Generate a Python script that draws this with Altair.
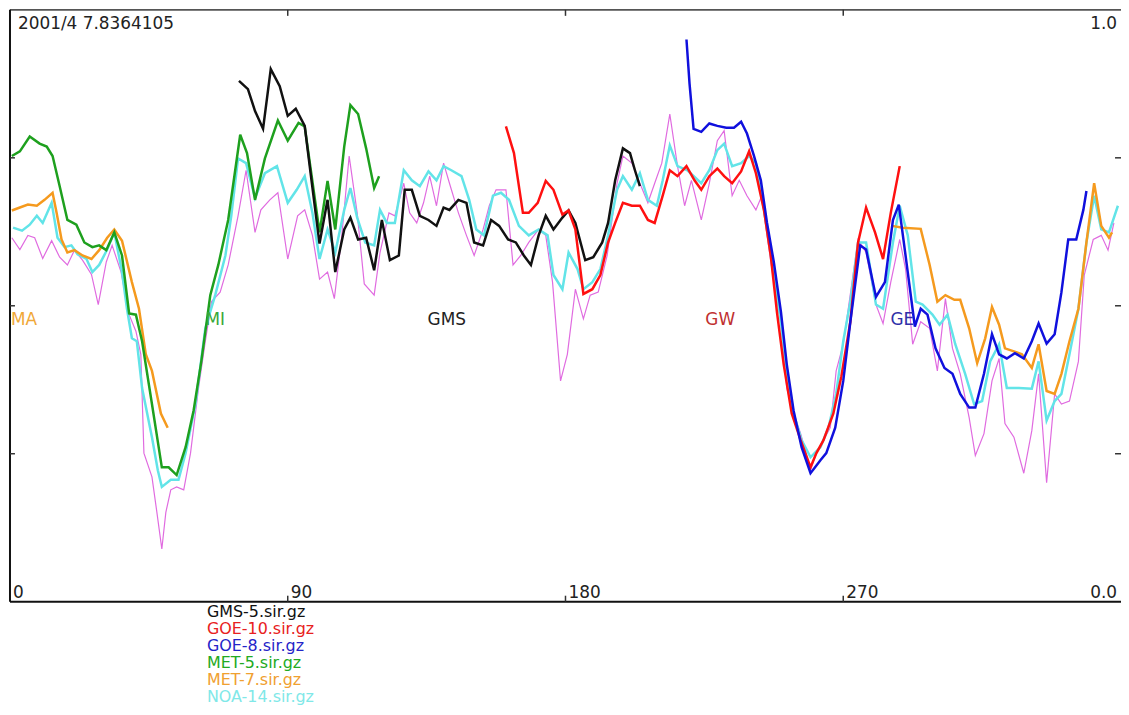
import altair as alt
import pandas as pd

W, H = 1117, 595
FONT = "DejaVu Sans"
FS = 17
LEG_FS = 16

TITLE = "2001/4 7.8364105"

x_tick_vals = [0, 90, 180, 270]
x_tick_labels = ["0", "90", "180", "270"]
y_tick_vals = [0.25, 0.5, 0.75]

sat_names = ["MA", "MI", "GMS", "GW", "GE"]
sat_lons = [0, 63, 135, 225, 285]
sat_colors = ["#f0a838", "#38a838", "#222222", "#c03030", "#3030a8"]

legend_names = ["GMS-5.sir.gz", "GOE-10.sir.gz", "GOE-8.sir.gz",
                "MET-5.sir.gz", "MET-7.sir.gz", "NOA-14.sir.gz"]
legend_colors = ["#111111", "#e82020", "#2424c8", "#22aa22", "#f0a030", "#80e8e8"]

# ---- composite (thin magenta) ----
mag_lon = [0.6, 3.2, 5.8, 8.0, 10.6, 13.5, 16.1, 18.6, 20.9, 23.5,
           26.4, 28.6, 31.2, 33.1, 36.0, 38.6, 40.8, 42.4, 43.4, 46.0,
           47.6, 49.2, 50.5, 52.1, 54.0, 56.3, 58.5, 61.1, 63.3, 65.3,
           68.1, 70.7, 73.9, 76.5, 79.4, 81.3, 84.2, 86.8, 90.0, 93.2,
           95.5, 98.0, 100.3, 102.9, 105.1, 107.4, 109.9, 112.5, 114.8, 118.0,
           119.9, 122.8, 124.7, 127.6, 129.5, 131.8, 134.0, 136.0, 138.2, 140.5,
           142.4, 145.3, 147.9, 150.4, 153.3, 155.3, 157.5, 160.7, 163.0, 165.5,
           168.1, 171.3, 173.6, 175.8, 178.4, 180.6, 183.2, 185.8, 188.0, 190.6,
           193.5, 196.7, 198.6, 201.5, 204.1, 206.7, 208.9, 211.2, 213.8, 216.3,
           218.6, 220.8, 224.0, 226.6, 229.2, 231.4, 234.0, 236.3, 238.8, 241.7,
           243.6, 245.3, 247.5, 249.8, 251.7, 253.9, 256.2, 259.4, 261.3, 263.6,
           265.8, 267.7, 270.0, 274.8, 277.4, 280.6, 282.9, 285.4, 288.3, 290.2,
           292.5, 295.1, 298.0, 300.5, 303.1, 305.4, 307.9, 310.8, 312.8, 315.6,
           318.2, 320.5, 322.4, 325.3, 328.5, 331.1, 333.3, 335.9, 338.5, 340.7,
           343.3, 346.2, 348.1, 351.0, 353.6, 355.8, 357.7]
mag_val = [0.615, 0.595, 0.619, 0.615, 0.580, 0.610, 0.582, 0.569, 0.594, 0.577,
           0.553, 0.502, 0.574, 0.602, 0.557, 0.485, 0.457, 0.418, 0.251, 0.211,
           0.151, 0.089, 0.151, 0.189, 0.194, 0.189, 0.251, 0.361, 0.440, 0.507,
           0.523, 0.569, 0.652, 0.729, 0.624, 0.662, 0.679, 0.691, 0.579, 0.652,
           0.662, 0.619, 0.545, 0.557, 0.512, 0.612, 0.753, 0.657, 0.537, 0.518,
           0.590, 0.657, 0.652, 0.707, 0.657, 0.640, 0.674, 0.719, 0.669, 0.741,
           0.707, 0.657, 0.619, 0.585, 0.629, 0.669, 0.696, 0.696, 0.569, 0.585,
           0.607, 0.629, 0.619, 0.540, 0.373, 0.418, 0.528, 0.478, 0.518, 0.523,
           0.585, 0.707, 0.753, 0.741, 0.707, 0.674, 0.707, 0.741, 0.824, 0.736,
           0.669, 0.712, 0.645, 0.707, 0.779, 0.796, 0.686, 0.712, 0.686, 0.662,
           0.686, 0.619, 0.540, 0.473, 0.361, 0.318, 0.284, 0.222, 0.251, 0.273,
           0.294, 0.390, 0.435, 0.612, 0.590, 0.502, 0.470, 0.540, 0.612, 0.562,
           0.435, 0.473, 0.462, 0.390, 0.512, 0.428, 0.385, 0.311, 0.247, 0.284,
           0.373, 0.411, 0.301, 0.278, 0.217, 0.289, 0.385, 0.201, 0.351, 0.334,
           0.339, 0.406, 0.552, 0.612, 0.619, 0.594, 0.640]

# ---- NOA-14 (cyan) ----
noa14_lon = [1.0, 3.9, 6.4, 8.7, 10.6, 13.5, 15.4, 17.7, 19.9, 21.9,
             24.8, 26.7, 28.9, 31.5, 33.8, 36.3, 37.9, 39.5, 41.1, 42.8,
             46.0, 47.9, 49.2, 52.1, 54.6, 56.9, 60.1, 63.3, 66.5, 69.8,
             71.7, 73.9, 76.5, 79.4, 82.6, 86.5, 90.0, 92.9, 95.5, 98.0,
             100.3, 102.9, 105.4, 108.3, 110.3, 112.5, 115.1, 118.0, 119.9, 122.1,
             124.7, 127.6, 130.2, 132.8, 135.6, 138.2, 140.5, 143.0, 146.3, 148.8,
             151.1, 153.6, 156.5, 159.1, 161.7, 164.9, 168.1, 171.3, 174.2, 176.1,
             179.0, 181.0, 183.9, 185.8, 188.7, 191.3, 193.8, 196.7, 198.6, 201.5,
             204.1, 206.7, 209.6, 211.5, 213.8, 216.3, 219.5, 224.0, 226.6, 229.2,
             231.4, 234.0, 236.9, 239.5, 241.7, 244.3, 246.9, 249.8, 251.7, 253.9,
             256.5, 259.4, 262.6, 265.2, 267.7, 270.0, 272.3, 274.8, 277.4, 280.6,
             282.9, 286.1, 288.3, 290.9, 293.5, 295.7, 298.9, 301.2, 303.8, 306.3,
             309.5, 312.4, 315.0, 317.6, 320.5, 323.0, 326.9, 331.1, 333.3, 335.9,
             338.5, 340.7, 343.3, 346.2, 348.8, 351.3, 353.6, 356.1, 359.0]
noa14_val = [0.632, 0.627, 0.637, 0.652, 0.640, 0.674, 0.615, 0.599, 0.602, 0.587,
             0.579, 0.557, 0.569, 0.595, 0.624, 0.557, 0.495, 0.445, 0.440, 0.361,
             0.278, 0.222, 0.194, 0.206, 0.206, 0.251, 0.334, 0.462, 0.518, 0.585,
             0.652, 0.749, 0.741, 0.682, 0.724, 0.736, 0.674, 0.696, 0.719, 0.657,
             0.579, 0.629, 0.590, 0.662, 0.699, 0.649, 0.607, 0.602, 0.662, 0.640,
             0.640, 0.729, 0.712, 0.702, 0.727, 0.712, 0.736, 0.729, 0.719, 0.679,
             0.629, 0.619, 0.686, 0.691, 0.679, 0.635, 0.619, 0.629, 0.619, 0.552,
             0.528, 0.590, 0.562, 0.528, 0.540, 0.562, 0.619, 0.696, 0.719, 0.696,
             0.724, 0.679, 0.669, 0.712, 0.771, 0.736, 0.729, 0.707, 0.729, 0.763,
             0.774, 0.736, 0.741, 0.753, 0.741, 0.662, 0.574, 0.473, 0.390, 0.318,
             0.273, 0.244, 0.261, 0.294, 0.351, 0.440, 0.507, 0.607, 0.607, 0.502,
             0.495, 0.607, 0.669, 0.619, 0.507, 0.502, 0.485, 0.468, 0.485, 0.435,
             0.385, 0.334, 0.339, 0.406, 0.435, 0.361, 0.361, 0.360, 0.406, 0.306,
             0.339, 0.351, 0.418, 0.495, 0.607, 0.686, 0.629, 0.624, 0.669]

# ---- MET-7 (orange), two pieces ----
met7a_lon = [0.6, 3.2, 5.8, 8.7, 11.2, 13.8, 15.1, 16.7, 18.6, 20.9, 23.5,
             26.4, 28.9, 31.5, 33.8, 36.3, 39.5, 41.8, 44.0, 46.0, 48.9, 51.1]
met7a_val = [0.661, 0.666, 0.671, 0.669, 0.679, 0.691, 0.657, 0.612, 0.590, 0.594, 0.585,
             0.579, 0.594, 0.615, 0.629, 0.610, 0.540, 0.495, 0.418, 0.390, 0.318, 0.294]
met7b_lon = [285.8, 289.3, 295.1, 298.0, 300.5, 303.1, 306.0, 307.9, 310.8, 313.4,
             316.0, 318.2, 320.5, 322.4, 325.3, 327.9, 331.1, 333.3, 335.9, 338.5,
             340.7, 343.3, 346.2, 348.8, 351.3, 353.6, 356.1, 357.1]
met7b_val = [0.635, 0.632, 0.630, 0.569, 0.507, 0.518, 0.510, 0.510, 0.462, 0.403,
             0.445, 0.498, 0.468, 0.428, 0.423, 0.418, 0.395, 0.435, 0.356, 0.351,
             0.385, 0.440, 0.495, 0.607, 0.707, 0.635, 0.615, 0.624]

# ---- MET-5 (green) ----
met5_lon = [0.6, 3.2, 6.4, 9.6, 11.9, 13.8, 16.1, 18.6, 21.5, 24.1,
            26.7, 28.9, 31.2, 33.8, 36.3, 38.6, 40.8, 42.8, 46.0, 49.2,
            51.4, 54.0, 56.9, 59.5, 62.0, 64.9, 67.5, 70.7, 74.6, 76.8,
            79.4, 82.6, 86.8, 90.0, 93.5, 95.5, 97.7, 100.3, 102.9, 105.4,
            108.3, 110.3, 112.8, 115.4, 118.0, 119.6]
met5_val = [0.753, 0.761, 0.786, 0.774, 0.769, 0.753, 0.702, 0.645, 0.637, 0.607,
            0.599, 0.602, 0.594, 0.624, 0.585, 0.487, 0.485, 0.440, 0.334, 0.227,
            0.227, 0.214, 0.261, 0.323, 0.406, 0.518, 0.569, 0.645, 0.789, 0.758,
            0.679, 0.749, 0.813, 0.779, 0.809, 0.803, 0.721, 0.624, 0.711, 0.629,
            0.769, 0.839, 0.824, 0.766, 0.699, 0.719]

# ---- GMS-5 (black) ----
gms5_lon = [74.2, 77.1, 79.4, 82.0, 84.5, 87.4, 90.0, 92.6, 95.5, 97.4,
            100.3, 102.9, 105.4, 108.3, 110.3, 112.8, 115.4, 118.0, 120.5, 123.1,
            126.0, 127.9, 130.2, 132.8, 135.6, 138.2, 140.5, 142.4, 145.3, 147.9,
            150.4, 153.3, 155.9, 158.5, 161.4, 163.9, 166.5, 168.8, 171.3, 173.6,
            176.1, 179.0, 181.0, 183.2, 186.4, 189.0, 191.9, 193.8, 196.1, 198.6,
            200.9, 202.5, 204.1]
gms5_val = [0.880, 0.866, 0.829, 0.799, 0.900, 0.871, 0.821, 0.833, 0.804, 0.724,
            0.605, 0.679, 0.557, 0.629, 0.649, 0.612, 0.615, 0.560, 0.645, 0.577,
            0.585, 0.696, 0.696, 0.652, 0.645, 0.635, 0.666, 0.662, 0.679, 0.674,
            0.607, 0.602, 0.645, 0.635, 0.612, 0.607, 0.585, 0.569, 0.619, 0.652,
            0.629, 0.649, 0.661, 0.640, 0.577, 0.582, 0.607, 0.640, 0.712, 0.766,
            0.758, 0.729, 0.702]

# ---- GOE-10 (red) ----
goe10_lon = [160.7, 163.3, 166.2, 168.1, 171.0, 173.6, 176.1, 179.0, 181.0, 183.2,
             185.8, 188.7, 191.3, 193.8, 196.1, 198.6, 201.5, 204.1, 206.7, 208.9,
             211.5, 213.8, 216.3, 219.2, 221.8, 224.0, 226.6, 229.2, 231.4, 234.0,
             236.9, 239.5, 241.7, 244.3, 246.5, 248.5, 250.7, 253.3, 256.2, 259.4,
             261.3, 263.6, 266.8, 269.4, 272.3, 274.8, 277.4, 280.3, 282.9, 285.4,
             288.3]
goe10_val = [0.803, 0.758, 0.657, 0.657, 0.674, 0.711, 0.696, 0.654, 0.661, 0.629,
             0.520, 0.528, 0.552, 0.607, 0.640, 0.674, 0.669, 0.669, 0.645, 0.640,
             0.686, 0.729, 0.719, 0.736, 0.712, 0.696, 0.719, 0.732, 0.719, 0.707,
             0.727, 0.761, 0.724, 0.662, 0.585, 0.490, 0.401, 0.318, 0.273, 0.227,
             0.251, 0.273, 0.318, 0.381, 0.473, 0.607, 0.666, 0.624, 0.579, 0.657,
             0.736]

# ---- GOE-8 (blue) ----
goe8_lon = [219.2, 220.2, 221.5, 224.0, 226.6, 229.2, 232.1, 234.6, 236.9, 238.8,
            241.1, 243.3, 245.3, 247.5, 249.8, 251.7, 253.9, 256.5, 259.4, 262.6,
            264.5, 267.4, 270.0, 272.3, 275.5, 277.4, 280.6, 283.5, 286.1, 288.0,
            290.9, 293.2, 295.1, 297.3, 299.9, 302.8, 305.4, 307.9, 310.8, 312.8,
            315.6, 318.2, 320.5, 323.0, 325.6, 328.5, 331.1, 333.3, 335.9, 338.5,
            340.7, 342.9, 345.5, 347.8, 348.8]
goe8_val = [0.950, 0.875, 0.799, 0.794, 0.808, 0.804, 0.801, 0.801, 0.811, 0.791,
            0.753, 0.712, 0.640, 0.574, 0.490, 0.401, 0.323, 0.261, 0.217, 0.239,
            0.251, 0.294, 0.373, 0.473, 0.602, 0.595, 0.515, 0.540, 0.645, 0.671,
            0.557, 0.465, 0.495, 0.485, 0.428, 0.395, 0.385, 0.351, 0.328, 0.328,
            0.385, 0.452, 0.418, 0.411, 0.420, 0.411, 0.440, 0.470, 0.436, 0.452,
            0.523, 0.612, 0.612, 0.662, 0.694]

xs = alt.Scale(domain=[0, 360], nice=False, zero=False)
ys = alt.Scale(domain=[0, 1], nice=False, zero=False)


def line(lons, vals, color, width):
    df = pd.DataFrame({"lon": lons, "v": vals})
    return alt.Chart(df).mark_line(color=color, strokeWidth=width, clip=True).encode(
        x=alt.X("lon:Q", scale=xs, axis=None),
        y=alt.Y("v:Q", scale=ys, axis=None),
    )


one = pd.DataFrame({"a": [0]})

layers = []
# frame
layers.append(alt.Chart(one).mark_rule(color="#555555", strokeWidth=2).encode(
    x=alt.value(0), x2=alt.value(W), y=alt.value(0)))
layers.append(alt.Chart(one).mark_rule(color="#111111", strokeWidth=2).encode(
    x=alt.value(0), y=alt.value(0), y2=alt.value(H)))
layers.append(alt.Chart(one).mark_rule(color="#111111", strokeWidth=2).encode(
    x=alt.value(0), x2=alt.value(W), y=alt.value(H)))

# ticks
xt = pd.DataFrame({"t": x_tick_vals[1:]})
yt = pd.DataFrame({"t": y_tick_vals})
layers.append(alt.Chart(xt).mark_rule(color="#333333", strokeWidth=1.5).encode(
    x=alt.X("t:Q", scale=xs, axis=None), y=alt.value(0), y2=alt.value(6)))
layers.append(alt.Chart(xt).mark_rule(color="#333333", strokeWidth=1.5).encode(
    x=alt.X("t:Q", scale=xs, axis=None), y=alt.value(H - 6), y2=alt.value(H)))
layers.append(alt.Chart(yt).mark_rule(color="#333333", strokeWidth=1.5).encode(
    y=alt.Y("t:Q", scale=ys, axis=None), x=alt.value(0), x2=alt.value(5)))
layers.append(alt.Chart(yt).mark_rule(color="#333333", strokeWidth=1.5).encode(
    y=alt.Y("t:Q", scale=ys, axis=None), x=alt.value(W - 6), x2=alt.value(W)))

# series
layers.append(line(mag_lon, mag_val, "#e06be0", 1.2))
layers.append(line(noa14_lon, noa14_val, "#62e4e8", 2.5))
layers.append(line(met7a_lon, met7a_val, "#f59a1e", 2.5))
layers.append(line(met7b_lon, met7b_val, "#f59a1e", 2.5))
layers.append(line(met5_lon, met5_val, "#1ea01e", 2.5))
layers.append(line(gms5_lon, gms5_val, "#111111", 2.5))
layers.append(line(goe10_lon, goe10_val, "#ff1010", 2.5))
layers.append(line(goe8_lon, goe8_val, "#1010dd", 2.5))

# tick labels
xl = pd.DataFrame({"t": x_tick_vals, "lab": x_tick_labels})
layers.append(alt.Chart(xl).mark_text(align="left", baseline="alphabetic", dx=3,
                                      font=FONT, fontSize=FS, color="#222222").encode(
    x=alt.X("t:Q", scale=xs, axis=None), y=alt.value(H - 4), text="lab:N"))
layers.append(alt.Chart(pd.DataFrame({"lab": ["1.0"]})).mark_text(
    align="right", baseline="alphabetic", font=FONT, fontSize=FS, color="#222222").encode(
    x=alt.value(W - 4), y=alt.value(19), text="lab:N"))
layers.append(alt.Chart(pd.DataFrame({"lab": ["0.0"]})).mark_text(
    align="right", baseline="alphabetic", font=FONT, fontSize=FS, color="#222222").encode(
    x=alt.value(W - 4), y=alt.value(H - 4), text="lab:N"))

# title text
layers.append(alt.Chart(pd.DataFrame({"lab": [TITLE]})).mark_text(
    align="left", baseline="alphabetic", font=FONT, fontSize=FS, color="#222222").encode(
    x=alt.value(8), y=alt.value(19), text="lab:N"))

# satellite labels
sl = pd.DataFrame({"lon": sat_lons, "lab": sat_names, "c": sat_colors})
layers.append(alt.Chart(sl).mark_text(align="left", baseline="alphabetic", dx=1,
                                      font=FONT, fontSize=FS).encode(
    x=alt.X("lon:Q", scale=xs, axis=None), y=alt.value(317), text="lab:N",
    color=alt.Color("c:N", scale=None)))

# legend text under the plot
for i, (name, col) in enumerate(zip(legend_names, legend_colors)):
    layers.append(alt.Chart(pd.DataFrame({"lab": [name]})).mark_text(
        align="left", baseline="middle", font=FONT, fontSize=LEG_FS, color=col).encode(
        x=alt.value(198), y=alt.value(605 + i * 17.2), text="lab:N"))

chart = alt.layer(*layers).properties(
    width=W, height=H,
    autosize=alt.AutoSizeParams(type="none"),
    padding={"left": 2, "top": 0, "right": 0, "bottom": 104},
    background="white",
).configure_view(stroke=None)

chart.save("out.html", embed_options={"renderer": "svg", "actions": False})
